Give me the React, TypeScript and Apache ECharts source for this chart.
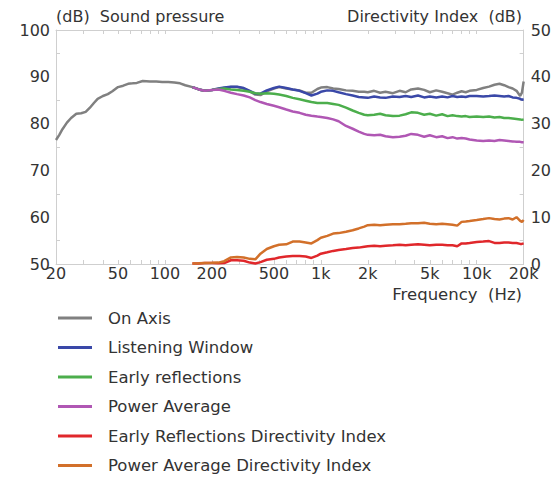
import React, { useEffect, useRef } from "react";
import * as echarts from "echarts";

// ---- Data ----
const onAxisFreq = [
  20, 21, 22, 23.5, 25, 27, 29, 31, 33, 35, 37, 40, 43, 46, 50, 54, 58, 62, 66, 72, 80, 88, 96, 105, 115, 125, 135,
  150, 165, 180, 200, 220, 240, 265, 290, 320, 350, 380, 410, 450, 500, 540, 600, 660, 730, 800, 870, 950, 1000,
  1100, 1200, 1300, 1450, 1600, 1750, 1900, 2000, 2200, 2400, 2600, 2900, 3200, 3500, 3800, 4200, 4600, 5000, 5500,
  6000, 6500, 7000, 7500, 8000, 8500, 9000, 10000, 11000, 12000, 13000, 14000, 15000, 16000, 17000, 18000, 19000,
  19500, 20000,
];
const onAxis = [
  76.5, 77.6, 78.8, 80.2, 81.2, 82.1, 82.2, 82.5, 83.4, 84.4, 85.3, 85.9, 86.3, 86.9, 87.8, 88.1, 88.5, 88.6, 88.7,
  89.1, 89.0, 89.0, 88.9, 88.9, 88.8, 88.6, 88.2,
  87.8, 87.3, 87.0, 87.2, 87.4, 87.6, 87.8, 87.8, 87.5, 86.9, 86.2, 86.1, 86.9, 87.5, 87.8, 87.5, 87.3, 87.1, 86.6,
  86.6, 87.4, 87.7, 87.8, 87.5, 87.4, 87.1, 87.0, 86.8, 86.8, 86.7, 87.0, 86.6, 86.8, 86.5, 87.0, 86.7, 87.3, 87.5,
  87.2, 86.7, 87.1, 86.8, 86.5, 86.2, 86.6, 86.9, 86.7, 87.0, 87.2, 87.6, 87.9, 88.3, 88.5, 88.2, 87.8, 87.5, 87.0,
  85.9, 86.6, 89.0,
];

const freq = [
  150, 165, 180, 200, 220, 240, 265, 290, 320, 350, 380, 410, 450, 500, 540, 600, 660, 730, 800, 870, 950, 1000,
  1100, 1200, 1300, 1450, 1600, 1750, 1900, 2000, 2200, 2400, 2600, 2900, 3200, 3500, 3800, 4200, 4600, 5000, 5500,
  6000, 6500, 7000, 7500, 8000, 8500, 9000, 10000, 11000, 12000, 13000, 14000, 15000, 16000, 17000, 18000, 19000,
  19500, 20000,
];
const listeningWindow = [
  87.8, 87.3, 87.0, 87.2, 87.5, 87.7, 87.9, 87.9, 87.6, 87.0, 86.4, 86.4, 87.1, 87.6, 87.9, 87.6, 87.3, 87.0, 86.5,
  86.0, 86.4, 86.8, 87.1, 87.0, 86.7, 86.3, 86.0, 85.7, 85.6, 85.5, 85.8, 85.6, 85.5, 85.8, 85.7, 85.9, 85.7, 86.0,
  85.6, 85.8, 85.6, 85.8, 85.6, 85.9, 85.7, 85.8, 85.7, 85.9, 85.9, 85.8, 85.9, 86.0, 85.9, 85.8, 85.9, 85.6, 85.5,
  85.3, 85.1, 85.2,
];
const earlyReflections = [
  87.8, 87.3, 87.0, 87.2, 87.4, 87.5, 87.3, 87.2, 87.0, 86.8, 86.5, 86.4, 86.5, 86.4, 86.2, 85.9, 85.5, 85.2, 84.9,
  84.6, 84.4, 84.4, 84.4, 84.2, 84.0, 83.4, 82.8, 82.3, 81.9, 81.8, 81.9, 82.1, 81.8, 81.6, 81.7, 82.0, 82.4, 82.3,
  81.9, 82.1, 81.7, 82.0, 81.6, 81.8, 81.6, 81.5, 81.6, 81.4, 81.5, 81.4, 81.5, 81.3, 81.4, 81.2, 81.2, 81.1, 81.0,
  80.9, 80.8, 80.9,
];
const powerAverage = [
  87.8, 87.3, 87.0, 87.2, 87.3, 87.0, 86.6, 86.3, 86.0, 85.6, 85.0, 84.6, 84.2, 83.8, 83.5, 83.0, 82.6, 82.3, 81.9,
  81.7, 81.5, 81.4, 81.2, 80.9, 80.5, 79.5, 78.9, 78.3, 77.8, 77.6, 77.5, 77.6, 77.3, 77.1, 77.2, 77.4, 77.8, 77.6,
  77.2, 77.5, 77.1, 77.3, 76.9, 77.1, 76.8, 76.9, 76.8, 76.6, 76.4, 76.3, 76.4, 76.3, 76.5, 76.4, 76.3, 76.2, 76.1,
  76.1, 76.0, 76.0,
];
const earlyReflectionsDI = [
  0.1, 0.1, 0.2, 0.2, 0.15, 0.2, 0.8, 0.8, 0.7, 0.3, 0.1, 0.4, 0.9, 1.1, 1.4, 1.6, 1.7, 1.7, 1.6, 1.3, 1.8, 2.2, 2.5,
  2.8, 3.0, 3.2, 3.4, 3.5, 3.7, 3.8, 3.9, 3.8, 3.9, 4.0, 4.1, 4.0, 4.1, 4.2, 4.1, 4.0, 4.1, 4.1, 4.0, 4.0, 3.8, 4.4,
  4.4, 4.5, 4.7, 4.8, 4.9, 4.5, 4.5, 4.6, 4.6, 4.5, 4.5, 4.3, 4.3, 4.4,
];
const powerAverageDI = [
  0.1, 0.15, 0.2, 0.25, 0.3, 0.6, 1.4, 1.5, 1.4, 1.1, 1.0, 2.2, 3.2, 3.8, 4.1, 4.2, 4.8, 4.8, 4.6, 4.4, 5.1, 5.6, 6.0,
  6.5, 6.6, 6.9, 7.2, 7.6, 8.0, 8.3, 8.4, 8.3, 8.4, 8.5, 8.5, 8.6, 8.7, 8.7, 8.8, 8.6, 8.5, 8.6, 8.5, 8.4, 8.2, 9.0,
  9.1, 9.2, 9.4, 9.6, 9.8, 9.6, 9.5, 9.7, 9.8, 9.5, 10.0, 9.2, 9.0, 9.4,
];

const xTickFreqs = [20, 50, 100, 200, 500, 1000, 2000, 5000, 10000, 20000];
const xTickLabels = ["20", "50", "100", "200", "500", "1k", "2k", "5k", "10k", "20k"];
const xMinorFreqs = [
  20, 30, 40, 50, 60, 70, 80, 90, 100, 200, 300, 400, 500, 600, 700, 800, 900, 1000, 2000, 3000, 4000, 5000, 6000,
  7000, 8000, 9000, 10000, 20000,
];
const leftMinorTicks = [55, 65, 75, 85, 95];
const rightMinorTicks = [5, 15, 25, 35, 45];

const seriesNames = [
  "On Axis",
  "Listening Window",
  "Early reflections",
  "Power Average",
  "Early Reflections Directivity Index",
  "Power Average Directivity Index",
];
const seriesColors = ["#808080", "#3a48a8", "#4cae4c", "#b057b4", "#e0272b", "#d2702a"];

const FONT = "DejaVu Sans";
const TEXT = "#333333";
const AXIS = "#cfcfcf";

const lg = (f: number) => Math.log10(f);
const zip = (xs: number[], ys: number[]) => xs.map((x, i) => [lg(x), ys[i]]);

export default function App() {
  const ref = useRef<HTMLDivElement>(null);
  useEffect(() => {
    if (!ref.current) return;
    const chart = echarts.init(ref.current, undefined, { renderer: "svg" });
    const labelFor = (v: number) => {
      let best = 0;
      let bd = Infinity;
      xTickFreqs.forEach((f, i) => {
        const d = Math.abs(lg(f) - v);
        if (d < bd) {
          bd = d;
          best = i;
        }
      });
      return xTickLabels[best];
    };
    const datasets = [
      zip(onAxisFreq, onAxis),
      zip(freq, listeningWindow),
      zip(freq, earlyReflections),
      zip(freq, powerAverage),
      zip(freq, earlyReflectionsDI),
      zip(freq, powerAverageDI),
    ];
    const xCommon = {
      type: "value" as const,
      min: lg(20),
      max: lg(20000),
      splitLine: { show: false },
      axisLine: { show: true, lineStyle: { color: AXIS, width: 1 } },
      axisTick: {
        show: true,
        inside: true,
        length: 4,
        customValues: xMinorFreqs.map(lg),
        lineStyle: { color: AXIS },
      },
    };
    chart.setOption({
      animation: false,
      backgroundColor: "#ffffff",
      grid: { left: 56, right: 30, top: 30, bottom: 214, containLabel: false },
      xAxis: [
        {
          ...xCommon,
          position: "bottom",
          axisLabel: {
            show: true,
            customValues: xTickFreqs.map(lg),
            formatter: (v: number) => labelFor(v),
            color: TEXT,
            fontFamily: FONT,
            fontSize: 16,
            margin: 1,
          },
        },
        {
          ...xCommon,
          position: "top",
          axisLabel: { show: false },
        },
      ],
      yAxis: [
        {
          type: "value",
          position: "left",
          min: 50,
          max: 100,
          interval: 10,
          splitLine: { show: false },
          axisLine: { show: true, lineStyle: { color: AXIS } },
          axisTick: {
            show: true,
            inside: true,
            length: 4,
            customValues: leftMinorTicks,
            lineStyle: { color: AXIS },
          },
          axisLabel: { color: TEXT, fontFamily: FONT, fontSize: 16, margin: 6 },
        },
        {
          type: "value",
          position: "right",
          min: 0,
          max: 50,
          interval: 10,
          splitLine: { show: false },
          axisLine: { show: true, lineStyle: { color: AXIS } },
          axisTick: {
            show: true,
            inside: true,
            length: 4,
            customValues: rightMinorTicks,
            lineStyle: { color: AXIS },
          },
          axisLabel: { color: TEXT, fontFamily: FONT, fontSize: 16, margin: 7 },
        },
      ],
      legend: {
        orient: "vertical",
        left: 58,
        top: 309,
        padding: 0,
        height: 169,
        icon: "rect",
        itemWidth: 34,
        itemHeight: 3,
        itemGap: 11.5,
        data: seriesNames,
        textStyle: {
          color: TEXT,
          fontFamily: FONT,
          fontSize: 16.5,
          lineHeight: 18,
          padding: [0, 0, 0, 11],
        },
      },
      graphic: [
        {
          type: "text",
          left: 56,
          top: 8,
          style: { text: "(dB)  Sound pressure", fill: TEXT, font: `16px '${FONT}'` },
        },
        {
          type: "text",
          right: 32,
          top: 8,
          style: { text: "Directivity Index  (dB)", fill: TEXT, font: `16px '${FONT}'` },
        },
        {
          type: "text",
          right: 32,
          top: 286,
          style: { text: "Frequency  (Hz)", fill: TEXT, font: `16.5px '${FONT}'` },
        },
      ],
      series: seriesNames.map((name, i) => ({
        name,
        type: "line",
        xAxisIndex: 0,
        yAxisIndex: i >= 4 ? 1 : 0,
        data: datasets[i],
        showSymbol: false,
        symbol: "none",
        smooth: false,
        color: seriesColors[i],
        lineStyle: { color: seriesColors[i], width: 2.5 },
        z: 2 + i,
      })),
    });
    return () => chart.dispose();
  }, []);
  return (
    <div
      ref={ref}
      style={{ position: "fixed", left: 0, top: 0, width: 554, height: 478, background: "#fff" }}
    />
  );
}
